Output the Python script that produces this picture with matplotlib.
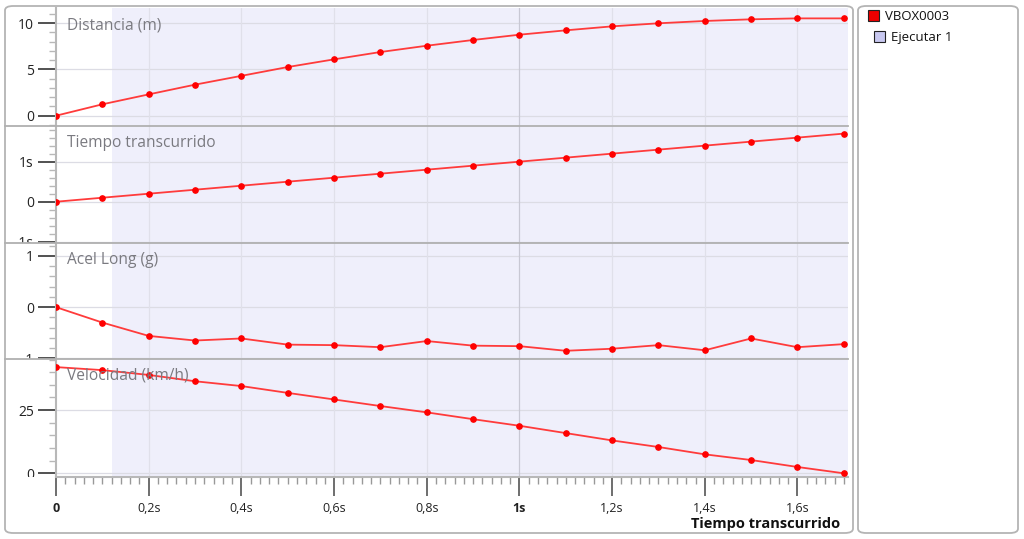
import matplotlib
matplotlib.use("Agg")
import matplotlib.pyplot as plt
from matplotlib.patches import FancyBboxPatch, Rectangle
from matplotlib.lines import Line2D
from matplotlib.ticker import MultipleLocator, FixedLocator
from matplotlib.transforms import Bbox, TransformedBbox

plt.rcParams['font.family'] = ['Open Sans', 'DejaVu Sans']

# datos
tiempo = [0.0, 0.1, 0.2, 0.3, 0.4, 0.5, 0.6, 0.7, 0.8, 0.9,
          1.0, 1.1, 1.2, 1.3, 1.4, 1.5, 1.6, 1.7]
distancia = [0.0, 1.23, 2.3, 3.35, 4.3, 5.25, 6.08, 6.87, 7.55, 8.17,
             8.74, 9.21, 9.64, 9.97, 10.22, 10.4, 10.5, 10.5]
tiempo_trans = [0.0, 0.1, 0.2, 0.3, 0.4, 0.5, 0.6, 0.7, 0.8, 0.9,
                1.0, 1.1, 1.2, 1.3, 1.4, 1.5, 1.6, 1.7]
acel_long = [0.0, -0.30, -0.56, -0.65, -0.61, -0.73, -0.74, -0.78, -0.66, -0.75,
             -0.76, -0.85, -0.81, -0.74, -0.84, -0.61, -0.78, -0.72]
velocidad = [42.0, 40.8, 38.9, 36.4, 34.5, 31.8, 29.2, 26.6, 24.1, 21.4,
             18.8, 15.9, 13.0, 10.4, 7.5, 5.25, 2.5, 0.0]

titulos = ["Distancia (m)", "Tiempo transcurrido", "Acel Long (g)", "Velocidad (km/h)"]
series = [distancia, tiempo_trans, acel_long, velocidad]
limites = [(-1.11, 11.62), (-1.03, 1.89), (-1.01, 1.25), (-1.46, 45.2)]
ticks_y = [[0, 5, 10], [-1, 0, 1], [-1, 0, 1], [0, 25]]
etiquetas_y = [["0", "5", "10"], ["-1s", "0", "1s"], ["-1", "0", "1"], ["0", "25"]]
menores_y = [1, 0.2, 0.2, 5]
ticks_x = [0, 0.2, 0.4, 0.6, 0.8, 1.0, 1.2, 1.4, 1.6]
etiquetas_x = ["0", "0,2s", "0,4s", "0,6s", "0,8s", "1s", "1,2s", "1,4s", "1,6s"]
ejecucion = (0.121, 1.709)

W, H = 1024, 539
fig = plt.figure(figsize=(W / 100, H / 100), dpi=100)

# marcos redondeados (detras de los ejes)
for xa, ancho in [(5, 848), (858, 160)]:
    fig.patches.append(FancyBboxPatch((xa / W, 6 / H), ancho / W, 527 / H,
                                      boxstyle="round,pad=0,rounding_size=0.008",
                                      transform=fig.transFigure, fc="white",
                                      ec="#b4b4b4", lw=1.3, zorder=-5))

x0, x1 = 56, 848
bordes = [8, 126, 243, 359, 477]
gris = "#b8b8b8"

axes = []
for i in range(4):
    top, bot = bordes[i], bordes[i + 1]
    ax = fig.add_axes([x0 / W, 1 - bot / H, (x1 - x0) / W, (bot - top) / H])
    ax.set_facecolor("none")
    ax.axvspan(ejecucion[0], ejecucion[1], color="#efeffb", lw=0, zorder=0)
    ax.plot(tiempo, series[i], color="#ff3b3b", lw=1.3, zorder=3)
    ax.plot(tiempo, series[i], "o", color="#ff0000", ms=3.8, zorder=4)
    ax.set_xlim(0, 1.709)
    ax.set_ylim(*limites[i])
    for s in ["top", "right", "bottom"]:
        ax.spines[s].set_visible(False)
    ax.spines["left"].set_color(gris)
    ax.spines["left"].set_linewidth(1.5)
    ax.yaxis.set_major_locator(FixedLocator(ticks_y[i]))
    ax.set_yticklabels(etiquetas_y[i], fontsize=10, color="#222222")
    ax.yaxis.set_minor_locator(MultipleLocator(menores_y[i]))
    ax.tick_params(axis="y", which="major", length=13, width=1.2, color="#333333", pad=3)
    ax.tick_params(axis="y", which="minor", length=5, width=1, color=gris)
    for yv in ticks_y[i]:
        ax.axhline(yv, color="#dcdce4", lw=0.9, zorder=1)
    for xv in ticks_x[1:]:
        ax.axvline(xv, color="#c8c8d4" if xv == 1.0 else "#e0e0ea", lw=0.9, zorder=1)
    ax.text(67 / W, 1 - (top + 17) / H, titulos[i], transform=fig.transFigure,
            fontsize=11.2, color="#7a7a80", va="center", ha="left", zorder=5)
    caja = TransformedBbox(Bbox([[0, 1 - bot / H], [x0 / W, 1 - top / H]]), fig.transFigure)
    for lbl in ax.get_yticklabels():
        lbl.set_clip_box(caja)
        lbl.set_clip_on(True)
    if i < 3:
        ax.tick_params(axis="x", which="both", bottom=False, labelbottom=False)
    axes.append(ax)

# eje x en el panel inferior
ax = axes[3]
ax.spines["bottom"].set_visible(True)
ax.spines["bottom"].set_color(gris)
ax.spines["bottom"].set_linewidth(1.5)
ax.xaxis.set_major_locator(FixedLocator(ticks_x))
ax.set_xticklabels(etiquetas_x, fontsize=9, color="#222222")
ax.xaxis.set_minor_locator(MultipleLocator(0.02))
ax.tick_params(axis="x", which="major", length=14, width=1.2, color="#555555", pad=4)
ax.tick_params(axis="x", which="minor", length=5, width=1, color="#999999")
for lbl in ax.get_xticklabels():
    if lbl.get_text() in ("0", "1s"):
        lbl.set_fontweight("bold")
fig.text(840 / W, 1 - 524 / H, "Tiempo transcurrido", fontsize=10.5,
         fontweight="bold", ha="right", va="center", color="#111111")

# divisiones entre paneles
for yb in bordes[1:4]:
    fig.lines.append(Line2D([5 / W, x1 / W], [1 - yb / H, 1 - yb / H],
                            transform=fig.transFigure, color="#b0b0b0", lw=1.3))

# leyenda
fig.patches.append(Rectangle((868 / W, 1 - 21 / H), 11 / W, 11 / H,
                             transform=fig.transFigure, fc="#ee0000", ec="#222222", lw=0.8))
fig.text(885 / W, 1 - 16 / H, "VBOX0003", fontsize=9.5, va="center", color="#111111")
fig.patches.append(Rectangle((874 / W, 1 - 42 / H), 11 / W, 11 / H,
                             transform=fig.transFigure, fc="#c8c8f0", ec="#222222", lw=0.8))
fig.text(891 / W, 1 - 37 / H, "Ejecutar 1", fontsize=9.5, va="center", color="#111111")

fig.savefig("out.png", dpi=100)
